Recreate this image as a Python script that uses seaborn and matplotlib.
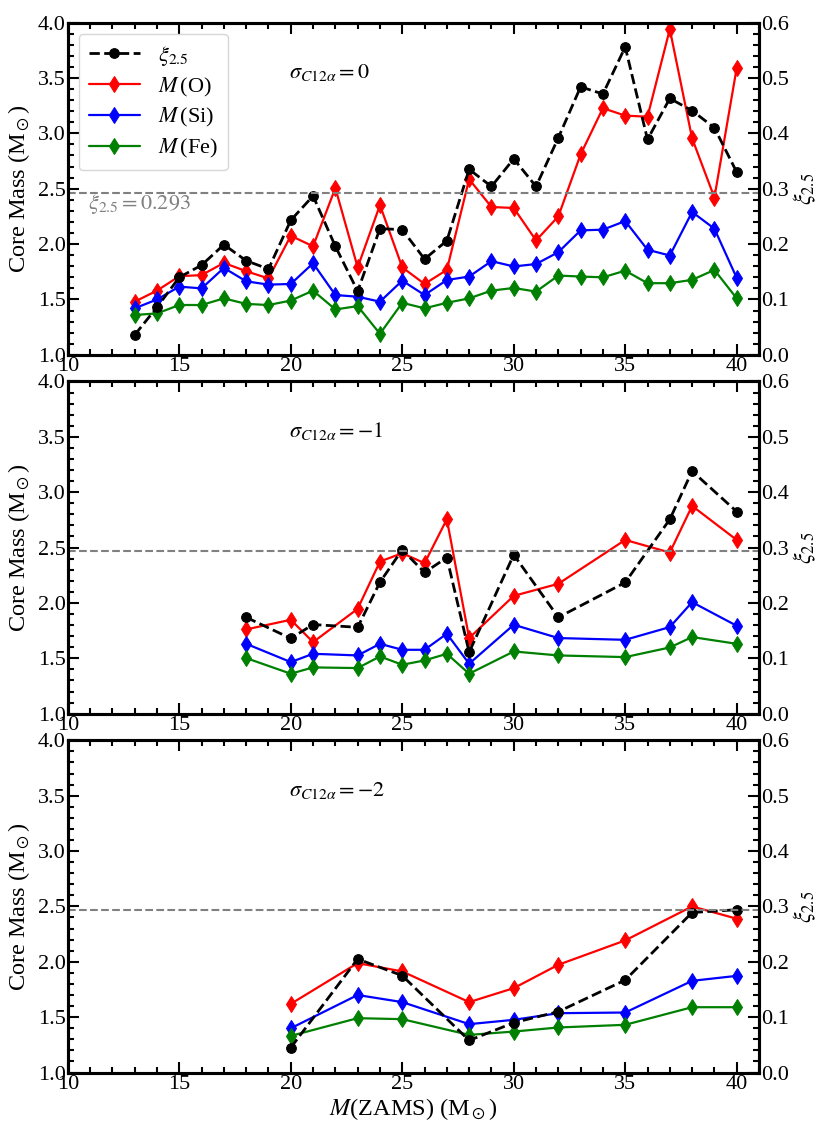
import matplotlib
matplotlib.use("Agg")
import matplotlib.pyplot as plt
from matplotlib.ticker import MultipleLocator
import seaborn as sns

# sigma = 0
mass_0 = [13, 14, 15, 16, 17, 18, 19, 20, 21, 22, 23, 24, 25, 26, 27, 28, 29, 30, 31, 32, 33, 34, 35, 36, 37, 38, 39, 40]
xi_0 = [0.036, 0.086, 0.140, 0.162, 0.199, 0.170, 0.155, 0.243, 0.287, 0.196, 0.115, 0.228, 0.226, 0.173,
        0.206, 0.335, 0.304, 0.354, 0.304, 0.392, 0.484, 0.471, 0.556, 0.389, 0.463, 0.441, 0.410, 0.330]
mo_0 = [1.48, 1.58, 1.71, 1.72, 1.83, 1.755, 1.69, 2.075, 1.98, 2.506, 1.79, 2.352, 1.79, 1.64,
        1.767, 2.586, 2.335, 2.326, 2.033, 2.25, 2.81, 3.227, 3.16, 3.15, 3.94, 2.955, 2.42, 3.59]
msi_0 = [1.42, 1.50, 1.616, 1.60, 1.785, 1.664, 1.634, 1.64, 1.827, 1.54, 1.525, 1.48, 1.67, 1.54,
         1.676, 1.707, 1.846, 1.798, 1.82, 1.927, 2.124, 2.13, 2.208, 1.949, 1.897, 2.29, 2.139, 1.695]
mfe_0 = [1.36, 1.374, 1.45, 1.45, 1.51, 1.46, 1.45, 1.49, 1.58, 1.41, 1.44, 1.19, 1.47, 1.42,
         1.47, 1.51, 1.58, 1.604, 1.571, 1.716, 1.707, 1.70, 1.76, 1.647, 1.647, 1.677, 1.767, 1.51]

# sigma = -1
mass_1 = [18, 20, 21, 23, 24, 25, 26, 27, 28, 30, 32, 35, 37, 38, 40]
xi_1 = [0.174, 0.136, 0.161, 0.156, 0.2375, 0.296, 0.255, 0.282, 0.111, 0.287, 0.174, 0.237, 0.351, 0.438, 0.365]
mo_1 = [1.761, 1.848, 1.646, 1.947, 2.374, 2.449, 2.359, 2.756, 1.683, 2.064, 2.173, 2.569, 2.455, 2.876, 2.569]
msi_1 = [1.631, 1.466, 1.541, 1.526, 1.631, 1.577, 1.577, 1.722, 1.451, 1.803, 1.683, 1.667, 1.782, 2.007, 1.794]
mfe_1 = [1.502, 1.361, 1.418, 1.412, 1.517, 1.442, 1.481, 1.541, 1.361, 1.562, 1.526, 1.511, 1.598, 1.692, 1.631]

# sigma = -2
mass_2 = [20, 23, 25, 28, 30, 32, 35, 38, 40]
xi_2 = [0.045, 0.205, 0.175, 0.058, 0.090, 0.110, 0.167, 0.289, 0.294]
mo_2 = [1.62, 1.988, 1.913, 1.636, 1.762, 1.973, 2.193, 2.50, 2.389]
msi_2 = [1.40, 1.70, 1.636, 1.437, 1.476, 1.536, 1.542, 1.828, 1.873]
mfe_2 = [1.331, 1.491, 1.482, 1.34, 1.37, 1.407, 1.431, 1.59, 1.59]

panels = [
    (mass_0, xi_0, mo_0, msi_0, mfe_0, r"$\sigma_{C12\alpha}=0$"),
    (mass_1, xi_1, mo_1, msi_1, mfe_1, r"$\sigma_{C12\alpha}=-1$"),
    (mass_2, xi_2, mo_2, msi_2, mfe_2, r"$\sigma_{C12\alpha}=-2$"),
]
xi_crit = 0.293

sns.set_style("ticks", {"axes.edgecolor": "black", "xtick.color": "black", "ytick.color": "black",
                        "text.color": "black", "axes.labelcolor": "black"})
plt.rcParams['font.family'] = ['Liberation Serif', 'DejaVu Serif']
plt.rcParams['mathtext.fontset'] = 'stix'
plt.rcParams['font.size'] = 16

fig, axes = plt.subplots(3, 1, figsize=(8.17, 11.29), dpi=100)
fig.subplots_adjust(left=0.083, right=0.929, top=0.98, bottom=0.05, hspace=0.08)

for i, (ax, (m, xi, mo, msi, mfe, title)) in enumerate(zip(axes, panels)):
    ax2 = ax.twinx()
    sns.lineplot(x=m, y=mo, ax=ax, color='red', marker='d', markersize=8,
                 markeredgecolor='red', lw=1.6, label=r"$M\,$(O)", legend=False)
    sns.lineplot(x=m, y=msi, ax=ax, color='blue', marker='d', markersize=8,
                 markeredgecolor='blue', lw=1.6, label=r"$M\,$(Si)", legend=False)
    sns.lineplot(x=m, y=mfe, ax=ax, color='green', marker='d', markersize=8,
                 markeredgecolor='green', lw=1.6, label=r"$M\,$(Fe)", legend=False)
    sns.lineplot(x=m, y=xi, ax=ax2, color='black', marker='o', markersize=7,
                 markeredgecolor='black', lw=2, linestyle='--', label=r"$\xi_{2.5}$", legend=False)
    ax2.axhline(xi_crit, color='gray', ls='--', lw=1.5)

    ax.set_xlim(10, 41)
    ax.set_ylim(1.0, 4.0)
    ax2.set_ylim(0.0, 0.6)
    ax.xaxis.set_major_locator(MultipleLocator(5))
    ax.xaxis.set_minor_locator(MultipleLocator(1))
    ax.yaxis.set_major_locator(MultipleLocator(0.5))
    ax.yaxis.set_minor_locator(MultipleLocator(0.1))
    ax2.yaxis.set_major_locator(MultipleLocator(0.1))
    ax2.yaxis.set_minor_locator(MultipleLocator(0.02))
    for a in (ax, ax2):
        a.tick_params(which='both', direction='in', labelsize=16, width=1.5, pad=1.5)
        a.tick_params(which='major', length=8)
        a.tick_params(which='minor', length=4.5)
        for s in a.spines.values():
            s.set_linewidth(2.2)
    ax.tick_params(which='both', top=True)
    ax.set_ylabel(r"Core Mass (M$_\odot$)", fontsize=17.5, labelpad=4)
    ax2.set_ylabel(r"$\xi_{2.5}$", fontsize=17, labelpad=2)
    ax.text(19.9, 3.55, title, fontsize=16, va='center', ha='left')

    if i == 0:
        ax.text(10.9, 2.36, r"$\xi_{2.5}=0.293$", color='gray', fontsize=16, va='center')
        h1, l1 = ax2.get_legend_handles_labels()
        h2, l2 = ax.get_legend_handles_labels()
        ax2.legend(h1 + h2, l1 + l2, loc='upper left', fontsize=16, frameon=True,
                   handlelength=2.3, borderpad=0.45, labelspacing=0.35)
    if i == 2:
        ax.set_xlabel(r"$M$(ZAMS) (M$_\odot$)", fontsize=17.5, labelpad=2)

fig.savefig("out.png", dpi=100)
plt.close(fig)
